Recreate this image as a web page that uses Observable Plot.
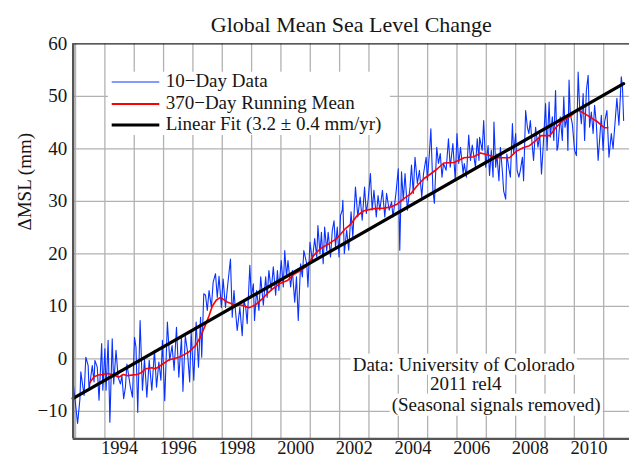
<!DOCTYPE html>
<html><head><meta charset="utf-8">
<script src="https://cdn.jsdelivr.net/npm/d3@7"></script>
<script src="https://cdn.jsdelivr.net/npm/@observablehq/plot@0.6"></script>
<style>
html,body{margin:0;padding:0;background:#fff;}
#wrap{position:relative;width:629px;height:458px;overflow:hidden;}
#overlay{position:absolute;left:0;top:0;pointer-events:none;}
</style></head><body><div id="wrap"></div>
<script>
// 10-day data (decimal year, mm)
const blueYear = [
1992.93,1993.07,1993.15,1993.18,1993.29,1993.35,1993.43,1993.46,1993.57,1993.63,1993.66,1993.74,1993.80,1993.89,1993.93,
1994.00,1994.04,1994.11,1994.17,1994.25,1994.30,1994.38,1994.45,1994.53,1994.58,1994.64,1994.70,1994.75,1994.87,1994.94,
1995.01,1995.06,1995.12,1995.20,1995.28,1995.35,1995.43,1995.51,1995.60,1995.69,1995.76,1995.84,1995.91,1995.96,
1996.04,1996.13,1996.21,1996.29,1996.36,1996.44,1996.52,1996.61,1996.66,1996.74,1996.81,1996.89,1996.94,
1997.03,1997.11,1997.19,1997.26,1997.30,1997.37,1997.43,1997.49,1997.55,1997.63,1997.69,1997.77,1997.83,1997.89,1997.97,
1998.03,1998.11,1998.19,1998.28,1998.34,1998.40,1998.45,1998.51,1998.60,1998.68,1998.74,1998.80,1998.85,1998.94,1998.99,
1999.06,1999.10,1999.17,1999.25,1999.31,1999.40,1999.48,1999.53,1999.59,1999.67,1999.74,1999.82,1999.88,1999.93,
2000.01,2000.08,2000.13,2000.19,2000.24,2000.33,2000.39,2000.47,2000.53,2000.59,2000.67,2000.73,2000.78,2000.88,2000.92,2000.99,
2001.07,2001.15,2001.22,2001.26,2001.33,2001.38,2001.44,2001.49,2001.56,2001.61,2001.69,2001.75,2001.81,2001.86,2001.92,2001.98,
2002.03,2002.09,2002.11,2002.16,2002.24,2002.31,2002.39,2002.45,2002.54,2002.62,2002.70,2002.77,2002.85,2002.91,2002.97,
2003.05,2003.11,2003.17,2003.25,2003.31,2003.37,2003.46,2003.54,2003.60,2003.69,2003.77,2003.82,2003.92,
2004.00,2004.05,2004.11,2004.17,2004.23,2004.31,2004.40,2004.45,2004.51,2004.57,2004.65,2004.72,2004.80,2004.86,2004.95,2004.99,
2005.06,2005.11,2005.18,2005.23,2005.31,2005.37,2005.43,2005.49,2005.54,2005.63,2005.71,2005.77,2005.86,2005.94,
2006.00,2006.06,2006.12,2006.21,2006.25,2006.32,2006.40,2006.46,2006.52,2006.63,2006.69,2006.75,2006.77,2006.86,2006.91,2006.98,
2007.06,2007.11,2007.17,2007.23,2007.26,2007.32,2007.36,2007.43,2007.48,2007.55,2007.59,2007.66,2007.70,2007.77,2007.82,2007.89,2007.93,
2008.00,2008.05,2008.11,2008.16,2008.23,2008.27,2008.34,2008.40,2008.45,2008.50,2008.57,2008.61,2008.68,2008.76,2008.82,2008.88,2008.93,
2009.02,2009.07,2009.14,2009.18,2009.25,2009.30,2009.36,2009.41,2009.44,2009.52,2009.59,2009.64,2009.68,2009.75,2009.78,2009.82,2009.86,2009.93,
2010.01,2010.07,2010.13,2010.18,2010.24,2010.30,2010.35,2010.41,2010.47,2010.52,2010.58,2010.64,2010.69,2010.75,2010.81,2010.86,2010.92,2010.98,
2011.03,2011.11,2011.18,2011.26,2011.32,2011.41,2011.45,2011.52,2011.60,2011.64,2011.68
];
const blueMSL = [
-5.1,-12.3,-7.6,-2.5,-7.0,0.3,-1.3,-6.0,-1.3,-4.4,-0.3,-1.6,-7.9,2.9,-6.0,
1.9,-6.0,3.5,-12.1,3.8,-4.8,1.6,-3.5,-4.8,-3.2,-7.6,-5.4,-1.0,-5.4,-7.3,
4.1,2.2,-10.2,7.3,-6.0,0.0,-7.3,-0.3,-6.0,1.6,-5.4,-0.6,-4.1,3.5,
-8.0,7.0,-0.3,2.5,-2.2,6.0,-3.5,4.1,-6.2,4.4,1.6,-4.4,5.1,
-4.1,7.0,-1.6,7.9,0.3,12.4,12.1,9.2,13.0,9.8,14.6,16.2,11.7,15.7,9.8,
15.2,9.8,14.3,19.0,7.9,13.0,9.2,5.4,9.8,4.4,11.1,9.8,6.7,17.8,11.7,
14.3,7.3,13.0,9.2,15.6,10.2,15.6,11.7,16.8,13.0,17.5,12.1,16.8,13.0,
18.7,13.7,20.6,15.6,18.7,13.7,16.8,10.8,15.6,7.3,18.1,15.6,20.6,18.1,13.7,22.2,
18.7,22.9,19.4,25.4,20.0,24.1,18.1,25.1,20.6,24.1,19.4,24.4,26.3,21.3,25.1,19.4,
27.3,28.3,30.2,20.0,24.5,20.7,28.0,23.2,32.7,27.0,30.8,26.4,32.7,27.7,30.2,
35.3,28.3,32.1,27.0,31.1,28.3,32.1,27.0,31.5,28.3,29.9,27.0,31.5,
36.2,20.7,35.6,30.2,35.3,28.3,32.7,36.9,31.5,38.4,33.4,35.9,30.8,35.3,38.4,34.0,
39.1,43.8,32.1,29.6,40.3,37.2,39.1,34.6,37.2,35.9,41.9,36.5,41.0,34.0,
42.9,37.2,40.3,35.3,37.2,34.6,42.6,37.8,40.7,36.5,41.9,37.8,42.2,39.7,45.4,36.5,
40.6,34.9,39.7,34.6,45.1,36.5,39.0,33.9,40.3,35.5,32.0,30.4,39.0,36.2,34.6,44.8,39.0,
42.9,35.9,34.6,35.9,38.4,33.9,47.3,44.1,42.9,45.4,40.3,37.8,44.1,40.3,42.9,35.2,39.7,
48.6,39.7,48.9,42.2,46.1,41.6,51.1,39.7,40.3,46.1,41.6,49.9,44.1,46.1,39.7,53.1,46.7,44.8,
39.7,38.7,54.6,48.0,44.8,50.5,41.6,51.1,54.0,44.1,47.0,42.9,48.3,44.8,37.8,41.6,46.4,39.7,
45.1,47.3,38.4,42.9,40.0,46.7,49.6,44.5,53.7,51.8,45.4
];
// 370-day running mean
const meanYear = [1993.49,1993.63,1993.78,1993.91,1994.08,1994.25,1994.48,1994.62,1994.76,1995.10,1995.25,1995.39,1995.60,1995.72,1995.84,
1996.00,1996.18,1996.35,1996.52,1996.70,1996.86,1997.09,1997.26,1997.43,1997.55,1997.66,1997.80,1997.94,1998.17,1998.40,1998.68,1998.91,
1999.14,1999.36,1999.53,1999.76,1999.99,2000.22,2000.44,2000.67,2000.90,2001.12,2001.35,2001.63,2001.92,2002.20,2002.37,2002.60,2002.83,
2003.17,2003.51,2003.74,2003.97,2004.19,2004.42,2004.65,2004.87,2005.10,2005.33,2005.55,2005.90,2006.24,2006.58,2006.80,
2007.06,2007.34,2007.56,2007.79,2008.02,2008.25,2008.47,2008.65,2008.87,2009.16,2009.38,2009.61,2009.89,2010.12,2010.35,2010.58,2010.80,2011.03,2011.14];
const meanMSL = [-4.5,-3.4,-3.1,-3.0,-2.8,-3.0,-3.5,-3.0,-3.2,-3.0,-2.6,-1.9,-1.7,-1.9,-1.5,
-0.9,-0.2,0.0,0.3,0.8,1.3,2.5,4.2,6.5,8.2,10.0,11.2,11.7,10.8,10.3,10.2,9.7,
10.3,11.4,12.4,13.5,14.4,14.9,16.1,16.8,17.8,19.7,21.0,21.9,23.0,24.8,25.6,27.3,28.2,
28.6,28.7,28.9,29.5,30.5,31.4,33.0,34.3,35.2,36.2,37.3,37.4,38.3,38.5,39.2,
38.8,38.3,38.3,38.3,39.5,40.2,40.6,41.4,42.5,42.5,44.1,45.4,46.3,47.4,46.7,45.9,45.1,44.0,44.0];
// linear fit end points
const fitYear = [1992.92, 2011.68];
const fitMSL = [-7.55, 52.4];

const gridYears = [1993,1994,1995,1996,1997,1998,1999,2000,2001,2002,2003,2004,2005,2006,2007,2008,2009,2010,2011];
const labelYears = [1994,1996,1998,2000,2002,2004,2006,2008,2010];
const yTicks = [-10,0,10,20,30,40,50,60];
const yGrid = [-10,0,10,20,30,40,50];
const seriesNames = ["10−Day Data","370−Day Running Mean","Linear Fit (3.2 ± 0.4 mm/yr)"];
const seriesColors = ["#0a32ff","#ff0000","#000000"];
const noteLines = ["Data: University of Colorado","2011 rel4","(Seasonal signals removed)"];
const titleText = "Global Mean Sea Level Change";
const yLabel = "ΔMSL (mm)";

const blue = blueYear.map((t,i)=>({t, v: blueMSL[i]}));
const mean = meanYear.map((t,i)=>({t, v: meanMSL[i]}));
const fit = fitYear.map((t,i)=>({t, v: fitMSL[i]}));

const xDom = [1992.92, 2011.88];
const yDom = [-15.24, 60];
const FONT = "'Liberation Serif','Times New Roman',serif";

const chart = Plot.plot({
  width: 629, height: 458,
  marginLeft: 72.7, marginRight: 0, marginTop: 43.3, marginBottom: 19.7,
  style: {fontFamily: FONT, fontSize: "19px", color: "#161616", background: "#fff"},
  x: {domain: xDom},
  y: {domain: yDom},
  marks: [
    Plot.gridX(gridYears, {stroke: "#b2b2b2", strokeOpacity: 1, strokeWidth: 1.3}),
    Plot.gridY(yGrid, {stroke: "#b2b2b2", strokeOpacity: 1, strokeWidth: 1.3}),
    Plot.line(blue, {x: "t", y: "v", stroke: seriesColors[0], strokeWidth: 1.1}),
    Plot.line(mean, {x: "t", y: "v", stroke: seriesColors[1], strokeWidth: 1.6}),
    Plot.line(fit, {x: "t", y: "v", stroke: seriesColors[2], strokeWidth: 3.2}),
    Plot.ruleY([yDom[1]], {stroke: "#222", strokeWidth: 1.2}),
    Plot.ruleY([yDom[0]], {stroke: "#555", strokeWidth: 2.2}),
    Plot.ruleX([xDom[0]], {stroke: "#555", strokeWidth: 2.4}),
    Plot.axisX(labelYears, {tickSize: 0, tickPadding: 2.4, dx: 14.7, tickFormat: d => String(d), label: null, fontSize: 18.5}),
    Plot.axisY(yTicks, {tickSize: 0, tickPadding: 6, tickFormat: d => d < 0 ? "\u2212" + Math.abs(d) : String(d), label: null, fontSize: 19}),
    Plot.text([titleText], {text: d => d, frameAnchor: "top", dy: -11.6, lineAnchor: "bottom", fontSize: 22}),
    Plot.text([yLabel], {text: d => d, frameAnchor: "left", rotate: -90, dx: -42, dy: -10.8, lineAnchor: "bottom", fontSize: 19})
  ]
});
document.getElementById("wrap").appendChild(chart);

// legend and note overlay
const ov = d3.select("#wrap").append("svg").attr("id","overlay")
  .attr("width",629).attr("height",458)
  .style("font-family", FONT).style("font-size","19px");
const lg = ov.append("g");
lg.append("rect").attr("x",108).attr("y",71.7).attr("width",282).attr("height",63.3).attr("fill","#fff");
const swY = [82, 104, 125], txY = [87.3, 109.3, 130], swW = [1, 1.8, 3.2];
seriesNames.forEach((n,i)=>{
  lg.append("line").attr("x1",111.7).attr("x2",159.3).attr("y1",swY[i]).attr("y2",swY[i])
    .attr("stroke",seriesColors[i]).attr("stroke-width",swW[i]);
  lg.append("text").attr("x",165.7).attr("y",txY[i]).attr("fill","#161616").text(n);
});
const nx = [352.7, 430, 391.7], ny = [370.7, 390, 410.7];
noteLines.forEach((s,i)=>{
  const g = ov.append("g");
  const r = g.append("rect").attr("fill","#fff");
  const t = g.append("text").attr("x",nx[i]).attr("y",ny[i]).attr("fill","#161616").text(s);
  const b = t.node().getBBox();
  r.attr("x",b.x-2).attr("y",b.y).attr("width",b.width+4).attr("height",b.height);
});
</script></body></html>
